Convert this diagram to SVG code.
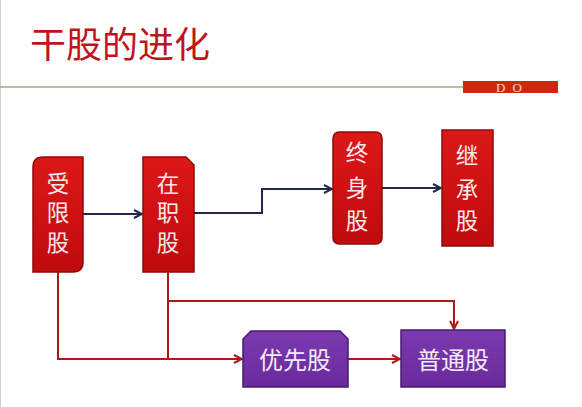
<svg xmlns="http://www.w3.org/2000/svg" width="582" height="407" viewBox="0 0 582 407">
<defs>
<linearGradient id="gRed" x1="0" y1="0" x2="0" y2="1">
<stop offset="0" stop-color="#dc1818"/>
<stop offset="1" stop-color="#c00a0e"/>
</linearGradient>
<linearGradient id="gPur" x1="0" y1="0" x2="0" y2="1">
<stop offset="0" stop-color="#7b3ab0"/>
<stop offset="1" stop-color="#6a2a9c"/>
</linearGradient>
<marker id="aNavy" markerWidth="10" markerHeight="10" refX="9" refY="5" orient="auto" markerUnits="userSpaceOnUse">
<path d="M1,1 L9,5 L1,9" fill="none" stroke="#1f2a4a" stroke-width="2"/>
</marker>
<marker id="aRed" markerWidth="10" markerHeight="10" refX="9" refY="5" orient="auto" markerUnits="userSpaceOnUse">
<path d="M1,1 L9,5 L1,9" fill="none" stroke="#b01818" stroke-width="2"/>
</marker>
</defs>
<style>
.red{fill:url(#gRed);stroke:#8e0a0a;stroke-width:1.5}
.pur{fill:url(#gPur);stroke:#4a1a70;stroke-width:1.5}
.nt{font-family:"Noto Sans CJK SC","Noto Sans",sans-serif;font-size:22.5px;fill:#fbe8ec;text-anchor:middle}
.pt{font-family:"Noto Sans CJK SC","Noto Sans",sans-serif;font-size:24px;fill:#f3eaf8;text-anchor:middle}
.cn{fill:none;stroke:#1f2a4a;stroke-width:2}
.cr{fill:none;stroke:#b01818;stroke-width:2}
</style>
<rect x="0" y="0" width="582" height="407" fill="#ffffff"/>
<line x1="0.5" y1="0" x2="0.5" y2="407" stroke="#d0d0d0" stroke-width="1"/>
<g id="title">
<text x="30" y="58" font-family="Noto Sans CJK SC,Noto Sans,sans-serif" font-size="36" fill="#c0141c">干股的进化</text>
</g>
<g id="header">
<line x1="0" y1="87" x2="464" y2="87" stroke="#a8a68a" stroke-width="1.5"/>
<rect x="463" y="81" width="95" height="12" fill="#cc2a10"/>
<text x="510" y="92" font-family="Liberation Serif,serif" font-size="13" fill="#f6d8c8" text-anchor="middle" letter-spacing="2">D O</text>
</g>
<g id="connectors">
<line class="cn" x1="83" y1="214" x2="142" y2="214" marker-end="url(#aNavy)"/>
<polyline class="cn" points="194,213 262,213 262,189 332,189" marker-end="url(#aNavy)"/>
<line class="cn" x1="382" y1="188" x2="441" y2="188" marker-end="url(#aNavy)"/>
<polyline class="cr" points="58,272 58,359 242,359" marker-end="url(#aRed)"/>
<line class="cr" x1="168" y1="272" x2="168" y2="359"/>
<polyline class="cr" points="168,301 454,301 454,329" marker-end="url(#aRed)"/>
<line class="cr" x1="348" y1="359" x2="400" y2="359" marker-end="url(#aRed)"/>
</g>
<g id="n1">
<path class="red" d="M43,157 L83,157 L83,262 Q83,272 73,272 L33,272 L33,167 Q33,157 43,157 Z"/>
<text class="nt" x="58" y="192">受</text>
<text class="nt" x="58" y="221">限</text>
<text class="nt" x="58" y="251">股</text>
</g>
<g id="n2">
<path class="red" d="M143,157 L186,157 L194,165 L194,272 L143,272 Z"/>
<text class="nt" x="168" y="192">在</text>
<text class="nt" x="168" y="221">职</text>
<text class="nt" x="168" y="251">股</text>
</g>
<g id="n3">
<rect class="red" x="333" y="132" width="49" height="112" rx="6"/>
<text class="nt" x="357" y="161">终</text>
<text class="nt" x="357" y="196">身</text>
<text class="nt" x="357" y="229">股</text>
</g>
<g id="n4">
<rect class="red" x="442" y="130" width="51" height="116"/>
<text class="nt" x="467" y="164">继</text>
<text class="nt" x="467" y="198">承</text>
<text class="nt" x="467" y="229">股</text>
</g>
<g id="n5">
<path class="pur" d="M251,331 L340,331 L348,339 L348,387 L243,387 L243,339 Z"/>
<text class="pt" x="295" y="369">优先股</text>
</g>
<g id="n6">
<rect class="pur" x="401" y="330" width="104" height="57"/>
<text class="pt" x="453" y="369">普通股</text>
</g>
</svg>
